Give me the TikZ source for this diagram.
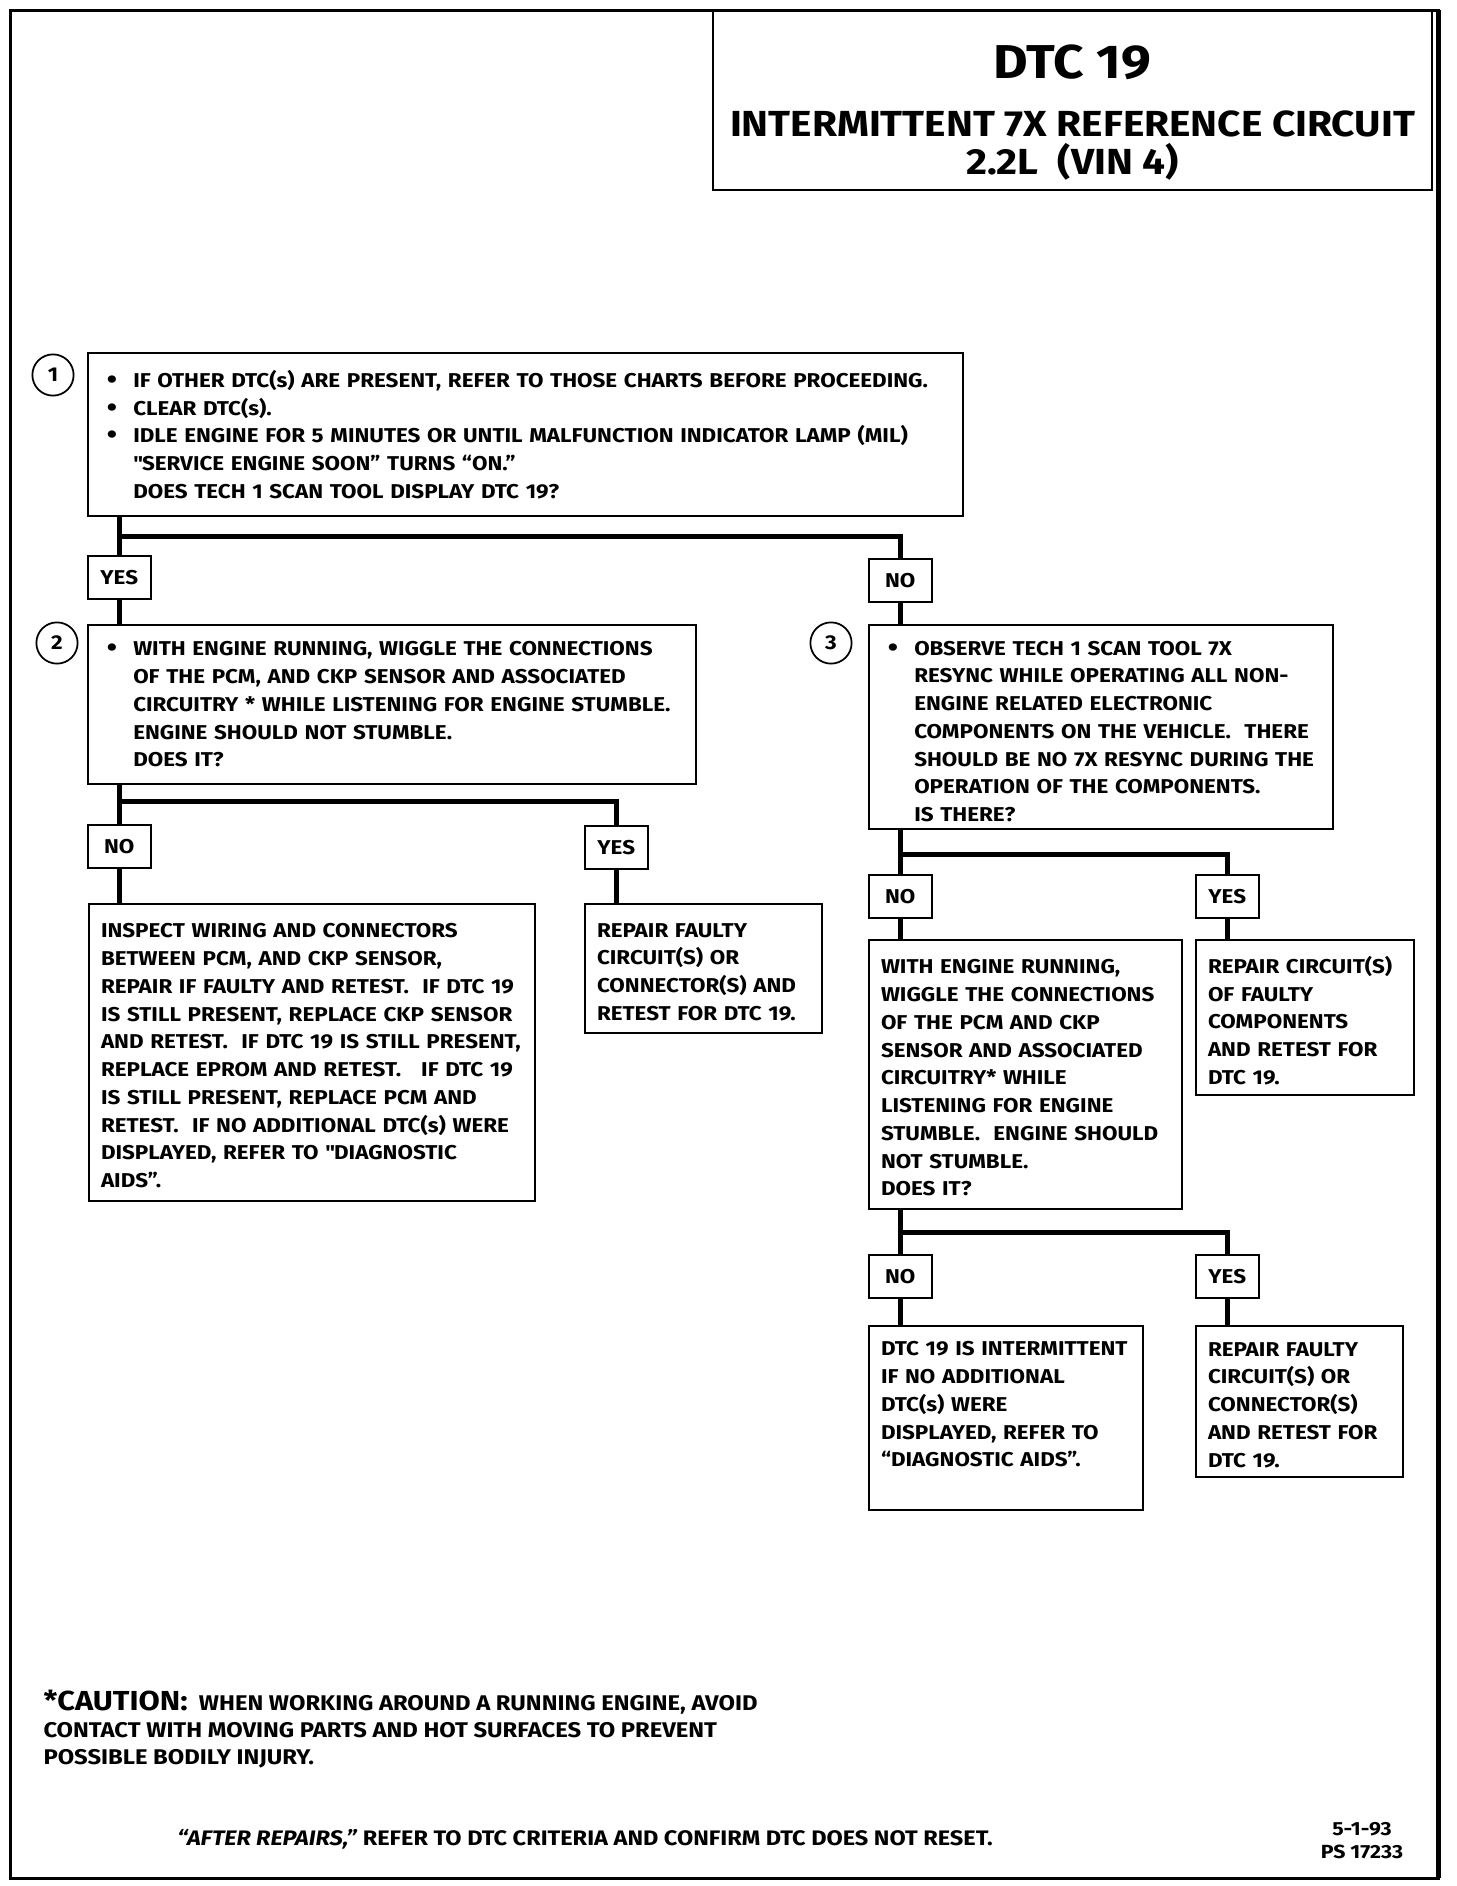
\documentclass[tikz,border=0pt]{standalone}
\usepackage{fontspec}
\setmainfont{Fira Sans}[FakeStretch=1.12]
\usetikzlibrary{positioning}

\newcommand{\bul}{\makebox[10.6pt][l]{\raisebox{-.4pt}{\fontsize{10.5}{0}\selectfont\textbullet}}}
\newcommand{\ind}{\hspace*{10.6pt}}
\newcommand{\boxfont}{\fontsize{8}{11.1}\selectfont\bfseries}
\newcommand{\topgap}[1]{\rule{0pt}{#1}}
\newcommand{\botgap}[1]{\rule[-#1]{0pt}{#1}}

\tikzset{
  stepbox/.style={draw,line width=.8pt,anchor=north west,align=left,
    inner xsep=7.5pt,inner ysep=0pt,font=\boxfont},
  endbox/.style={draw,line width=.8pt,anchor=north west,align=left,
    inner xsep=4.8pt,inner ysep=0pt,font=\boxfont},
  answer/.style={draw,line width=.8pt,anchor=north west,minimum width=25pt,
    minimum height=17pt,inner sep=0pt,font=\boxfont},
  stepno/.style={circle,draw,line width=.7pt,minimum size=16.5pt,
    inner sep=0pt,font=\boxfont},
  link/.style={line width=2pt},
}

\begin{document}
\begin{tikzpicture}[x=.4pt,y=-.4pt]
  \useasboundingbox (0,0) rectangle (1456,1886);
  \draw[line width=1.2pt] (10,10) rectangle (1438,1878);
  \draw[line width=2pt] (1438,10) -- (1438,1878);

  % title
  \node[draw,line width=.8pt,anchor=north west,minimum width=287.6pt,
    minimum height=71.6pt,align=center,inner sep=0pt,
    font=\fontsize{14.5}{14.9}\selectfont\bfseries] (title) at (712,10)
    {\fontsize{19}{14.9}\selectfont\bfseries\topgap{22.8pt}DTC 19\\[8.6pt]
     \fontsize{14.5}{14.9}\selectfont\bfseries INTERMITTENT 7X REFERENCE CIRCUIT\\
     \fontsize{14.5}{14.9}\selectfont\bfseries 2.2L\ \ (VIN 4)};

  % step 1
  \node[stepno] (n1) at (53,375) {1};
  \node[stepbox,text width=335pt,minimum height=65.2pt] (box1) at (87,352)
    {\bul IF OTHER DTC(s) ARE PRESENT, REFER TO THOSE CHARTS BEFORE PROCEEDING.\\
     \bul CLEAR DTC(s).\\
     \bul IDLE ENGINE FOR 5 MINUTES OR UNTIL MALFUNCTION INDICATOR LAMP (MIL)\\
     \ind \textquotedbl SERVICE ENGINE SOON” TURNS “ON.”\\
     \ind DOES TECH 1 SCAN TOOL DISPLAY DTC 19?};
  \coordinate (j1) at (0,536);
  \node[answer] (yes1) at (87,555) {YES};
  \node[answer] (no1) at (868,558) {NO};
  \draw[link] (yes1.north |- box1.south) -- (yes1.north);
  \draw[link] (yes1.north |- j1) -| (no1.north);

  % step 2
  \node[stepno] (n2) at (57,643) {2};
  \node[stepbox,text width=228.2pt,minimum height=63.6pt] (box2) at (87,624)
    {\bul WITH ENGINE RUNNING, WIGGLE THE CONNECTIONS\\
     \ind OF THE PCM, AND CKP SENSOR AND ASSOCIATED\\
     \ind CIRCUITRY * WHILE LISTENING FOR ENGINE STUMBLE.\\
     \ind ENGINE SHOULD NOT STUMBLE.\\
     \ind DOES IT?};
  \draw[link] (yes1.south) -- (yes1.south |- box2.north);
  \coordinate (j2) at (0,801);
  \node[answer] (no2) at (87,824) {NO};
  \node[answer] (yes2) at (584,825) {YES};
  \draw[link] (no2.north |- box2.south) -- (no2.north);
  \draw[link] (no2.north |- j2) -| (yes2.north);
  \node[endbox,text width=168.8pt,minimum height=118.8pt] (fix2a) at (88,903)
    {\topgap{8.4pt}INSPECT WIRING AND CONNECTORS\\
     BETWEEN PCM, AND CKP SENSOR,\\
     REPAIR IF FAULTY AND RETEST.\ \ IF DTC 19\\
     IS STILL PRESENT, REPLACE CKP SENSOR\\
     AND RETEST.\ \ IF DTC 19 IS STILL PRESENT,\\
     REPLACE EPROM AND RETEST.\ \ \ IF DTC 19\\
     IS STILL PRESENT, REPLACE PCM AND\\
     RETEST.\ \ IF NO ADDITIONAL DTC(s) WERE\\
     DISPLAYED, REFER TO \textquotedbl DIAGNOSTIC\\
     AIDS”.};
  \node[endbox,text width=85.2pt,minimum height=51.6pt] (fix2b) at (584,903)
    {\topgap{8.4pt}REPAIR FAULTY\\
     CIRCUIT(S) OR\\
     CONNECTOR(S) AND\\
     RETEST FOR DTC 19.};
  \draw[link] (no2.south) -- (no2.south |- fix2a.north);
  \draw[link] (yes2.south) -- (yes2.south |- fix2b.north);

  % step 3
  \node[stepno] (n3) at (831,643) {3};
  \node[stepbox,text width=170.6pt,minimum height=81.6pt] (box3) at (868,624)
    {\bul\topgap{9.3pt}OBSERVE TECH 1 SCAN TOOL 7X\\
     \ind RESYNC WHILE OPERATING ALL NON-\\
     \ind ENGINE RELATED ELECTRONIC\\
     \ind COMPONENTS ON THE VEHICLE.\ \ THERE\\
     \ind SHOULD BE NO 7X RESYNC DURING THE\\
     \ind OPERATION OF THE COMPONENTS.\\
     \ind IS THERE?};
  \draw[link] (no1.south) -- (no1.south |- box3.north);
  \coordinate (j3) at (0,854);
  \node[answer] (no3) at (868,874) {NO};
  \node[answer] (yes3) at (1195,874) {YES};
  \draw[link] (no3.north |- box3.south) -- (no3.north);
  \draw[link] (no3.north |- j3) -| (yes3.north);
  \node[endbox,text width=115.6pt,minimum height=107.6pt] (box4) at (868,939)
    {\topgap{8.4pt}WITH ENGINE RUNNING,\\
     WIGGLE THE CONNECTIONS\\
     OF THE PCM AND CKP\\
     SENSOR AND ASSOCIATED\\
     CIRCUITRY* WHILE\\
     LISTENING FOR ENGINE\\
     STUMBLE.\ \ ENGINE SHOULD\\
     NOT STUMBLE.\\
     DOES IT?};
  \node[endbox,text width=77.6pt,minimum height=62pt] (fix3) at (1195,939)
    {\topgap{9.3pt}REPAIR CIRCUIT(S)\\
     OF FAULTY\\
     COMPONENTS\\
     AND RETEST FOR\\
     DTC 19.};
  \draw[link] (no3.south) -- (no3.south |- box4.north);
  \draw[link] (yes3.south) -- (yes3.south |- fix3.north);

  % step 4
  \coordinate (j4) at (0,1232);
  \node[answer] (no4) at (868,1254) {NO};
  \node[answer] (yes4) at (1195,1254) {YES};
  \draw[link] (no4.north |- box4.south) -- (no4.north);
  \draw[link] (no4.north |- j4) -| (yes4.north);
  \node[endbox,text width=100pt,minimum height=73.6pt] (fix4a) at (868,1325)
    {DTC 19 IS INTERMITTENT\\
     IF NO ADDITIONAL\\
     DTC(s) WERE\\
     DISPLAYED, REFER TO\\
     “DIAGNOSTIC AIDS”.\botgap{11pt}};
  \node[endbox,text width=73.2pt,minimum height=60.4pt] (fix4b) at (1195,1325)
    {\topgap{8.4pt}REPAIR FAULTY\\
     CIRCUIT(S) OR\\
     CONNECTOR(S)\\
     AND RETEST FOR\\
     DTC 19.};
  \draw[link] (no4.south) -- (no4.south |- fix4a.north);
  \draw[link] (yes4.south) -- (yes4.south |- fix4b.north);

  % notes
  \node[anchor=north west,align=left,inner sep=0pt,
    font=\fontsize{8.5}{10.8}\selectfont\bfseries] (caution) at (43,1690)
    {{\fontsize{11}{10.8}\selectfont *CAUTION:}\ \ WHEN WORKING AROUND A RUNNING ENGINE, AVOID\\
     CONTACT WITH MOVING PARTS AND HOT SURFACES TO PREVENT\\
     POSSIBLE BODILY INJURY.};
  \node[font=\fontsize{8.4}{9}\selectfont\bfseries] (after) at (585,1839)
    {\textit{“AFTER REPAIRS,”} REFER TO DTC CRITERIA AND CONFIRM DTC DOES NOT RESET.};
  \node[align=center,font=\fontsize{7.6}{9.2}\selectfont\bfseries] (date)
    at (1362,1841) {5-1-93\\PS 17233};
\end{tikzpicture}
\end{document}
